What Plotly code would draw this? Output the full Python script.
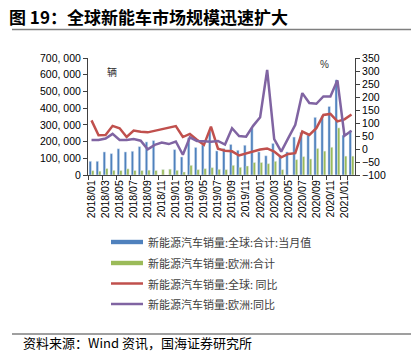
import plotly.graph_objects as go

months = [f"{y}/{m:02d}" for y in (2018, 2019, 2020) for m in range(1, 13)] + ["2021/01", "2021/02"]

global_sales = [82000, 82000, 138000, 128000, 157000, 138000, 142000, 170000, 198000, 206000,
                None, None, 152000, 108000, 222000, 165000, 180000, 263000, 144000, 159000,
                183000, 148000, 178000, 282000, 138000, 115000, 189000, 118000, 138000, 227000,
                255000, 239000, 345000, 355000, 410000, 569000, 239000, 265000]
europe_sales = [26000, 23000, 39000, 28000, 27000, 37000, 27000, 27000, 29000, 27000,
                33000, 35000, 28000, 18000, 58000, 32000, 38000, 44000, 34000, 32000,
                58000, 46000, 54000, 75000, 75000, 68000, 82000, 32000, None, 92000,
                110000, 96000, 159000, 143000, 166000, 282000, 113000, 113000]
global_yoy = [110, 53, 54, 89, 80, 46, 71, 66, 64, 70, 75, 81, 88, 46, 58, 36, 16, 86, 1, -7,
              -9, -25, -18, -10, -2, 2, -10, -32, -19, -16, 67, 54, 80, 131, 135, 106, 114, 133]
europe_yoy = [35, 35, 40, 58, 35, 35, 38, 32, -1, 16, 25, 19, 29, -22, 45, 31, 30, 28, 31, 17,
              80, 50, 47, 89, 122, 304, 38, -10, 42, 93, 215, 177, 174, 202, 202, 264, 51, 70]

names = ["新能源汽车销量:全球:合计:当月值", "新能源汽车销量:欧洲:合计",
         "新能源汽车销量:全球: 同比", "新能源汽车销量:欧洲:同比"]
colors = ["#4F81BD", "#9BBB59", "#C0504D", "#8064A2"]

left_ticks = [0, 100000, 200000, 300000, 400000, 500000, 600000, 700000]
left_text = ["0", "100, 000", "200, 000", "300, 000", "400, 000", "500, 000", "600, 000", "700, 000"]
right_ticks = [-100, -50, 0, 50, 100, 150, 200, 250, 300, 350]
right_text = ["\u2212100", "\u221250", "0", "50", "100", "150", "200", "250", "300", "350"]

NUM = "Liberation Sans, Arial, sans-serif"
CJK = "Noto Sans CJK SC, sans-serif"

fig = go.Figure()
fig.add_trace(go.Bar(x=months, y=global_sales, name=names[0], marker_color=colors[0], yaxis="y"))
fig.add_trace(go.Bar(x=months, y=europe_sales, name=names[1], marker_color=colors[1], yaxis="y"))
fig.add_trace(go.Scatter(x=months, y=global_yoy, name=names[2], mode="lines",
                         line=dict(color=colors[2], width=2.5), yaxis="y2", connectgaps=True))
fig.add_trace(go.Scatter(x=months, y=europe_yoy, name=names[3], mode="lines",
                         line=dict(color=colors[3], width=2.5), yaxis="y2", connectgaps=True))

W, H = 411, 353
L, R, T, B = 88, 56, 58, 178
PW, PH = W - L - R, H - T - B

def px(x):
    return (x - L) / PW

def py(y):
    return 1 - (y - T) / PH

fig.update_layout(
    width=W, height=H,
    margin=dict(l=L, r=R, t=T, b=B, pad=0),
    paper_bgcolor="white", plot_bgcolor="white",
    showlegend=False,
    barmode="group", bargap=0.3, bargroupgap=0.0,
    font=dict(family=NUM, size=10.5, color="black"),
    xaxis=dict(type="category", tickmode="array", tickvals=months[::2], ticktext=months[::2],
               tickangle=-90, tickson="boundaries", ticks="outside", ticklen=4,
               tickcolor="#404040", showline=True, linecolor="#404040", linewidth=1,
               showgrid=False, tickfont=dict(family=NUM, size=10.5, color="black")),
    yaxis=dict(range=[0, 700000], tickmode="array", tickvals=left_ticks, ticktext=left_text,
               ticks="outside", ticklen=4, tickcolor="#404040", showline=True,
               linecolor="#404040", linewidth=1, showgrid=False, zeroline=False,
               tickfont=dict(family=NUM, size=10.5, color="black")),
    yaxis2=dict(range=[-100, 350], overlaying="y", side="right", tickmode="array",
                tickvals=right_ticks, ticktext=right_text, ticks="outside", ticklen=4,
                tickcolor="#404040", showline=True, linecolor="#404040", linewidth=1,
                showgrid=False, zeroline=False,
                tickfont=dict(family=NUM, size=10.5, color="black")),
)

shapes = []
annotations = []
annotations.append(dict(text="<b>图 19：全球新能车市场规模迅速扩大</b>", x=px(7), y=py(17),
                        xref="paper", yref="paper", xanchor="left", yanchor="middle",
                        showarrow=False, font=dict(family=CJK, size=17, color="black")))
shapes.append(dict(type="line", xref="paper", yref="paper", x0=px(12), x1=px(411), y0=py(29.5), y1=py(29.5),
                   line=dict(color="#7f7f7f", width=1.5)))
shapes.append(dict(type="line", xref="paper", yref="paper", x0=px(12), x1=px(411), y0=py(334), y1=py(334),
                   line=dict(color="#7f7f7f", width=1.5)))
annotations.append(dict(text="资料来源：Wind 资讯，国海证券研究所", x=px(21), y=py(342.5),
                        xref="paper", yref="paper", xanchor="left", yanchor="middle",
                        showarrow=False, font=dict(family=CJK, size=13, color="black")))
annotations.append(dict(text="辆", x=px(105), y=py(62), xref="paper", yref="paper",
                        showarrow=False, font=dict(family=CJK, size=10, color="#333333")))
annotations.append(dict(text="%", x=px(331), y=py(57), xref="paper", yref="paper",
                        showarrow=False, font=dict(family=NUM, size=10, color="#333333")))
rows = [242, 263, 283.5, 304]
for i, (nm, c, yy) in enumerate(zip(names, colors, rows)):
    if i < 2:
        shapes.append(dict(type="rect", xref="paper", yref="paper", x0=px(111), x1=px(143),
                           y0=py(yy + 2.2), y1=py(yy - 2.2), fillcolor=c, line=dict(width=0)))
    else:
        shapes.append(dict(type="line", xref="paper", yref="paper", x0=px(111), x1=px(143),
                           y0=py(yy), y1=py(yy), line=dict(color=c, width=2.5)))
    annotations.append(dict(text=nm, x=px(146), y=py(yy), xref="paper", yref="paper",
                            xanchor="left", yanchor="middle", showarrow=False,
                            font=dict(family=CJK, size=11, color="#404040")))

fig.update_layout(shapes=shapes, annotations=annotations)
fig.write_html("out.html")
